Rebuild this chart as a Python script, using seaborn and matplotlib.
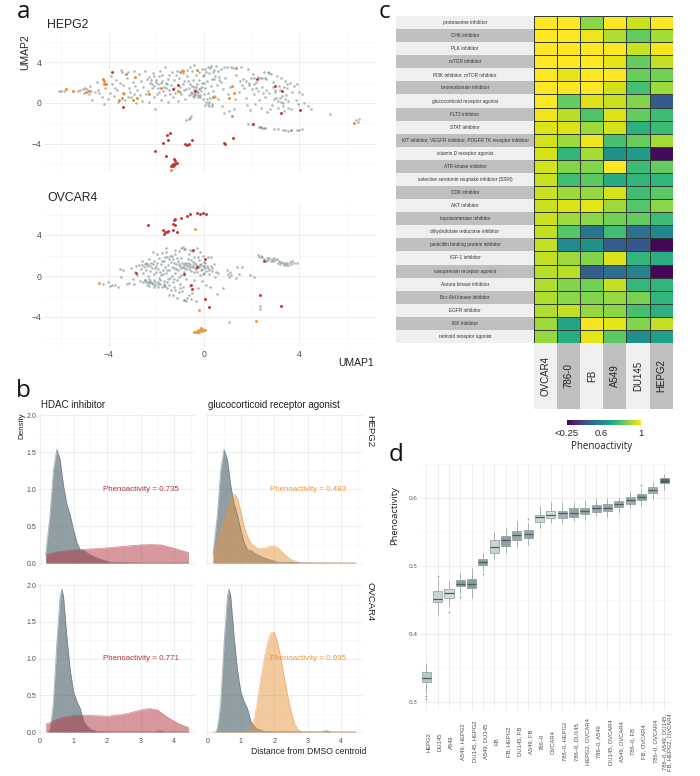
from matplotlib import pyplot as plt
from matplotlib.colors import to_rgba
import numpy as np
import pandas as pd
import seaborn as sns

W, H = 700, 776

# panel a, values
hepg2_grey = [(-6.1,1.15),(-6.0,1.2),(-5.9,1.2),(-5.3,1.2),(-5.2,1.3),(-5.1,1.35),(-5.05,1.0),(-5.0,1.5),(-4.9,1.4),(-4.85,.9),
    (-4.8,1.7),(-4.75,1.2),(-4.7,.3),(-4.5,2.1),(-4.45,1.3),(-4.3,.6),(-4.2,-.1),(-4.15,1.5),(-4.05,.4),(-3.95,1.0),
    (-3.9,2.6),(-3.85,1.9),(-3.8,.7),(-3.7,2.3),(-3.65,1.3),(-3.6,.1),(-3.55,2.0),(-3.5,3.2),(-3.45,3.0),(-3.4,1.8),
    (-3.35,.9),(-3.3,.3),(-3.25,2.5),(-3.2,3.0),(-3.15,1.5),(-3.1,1.1),(-3.05,.6),(-3.0,2.1),(-2.95,3.1),(-2.9,1.7),
    (-2.85,.0),(-2.8,1.3),(-2.75,2.8),(-2.7,.8),(-2.65,2.2),(-2.6,.2),(-2.55,1.6),(-2.5,3.1),(-2.45,.9),(-2.4,2.4),
    (-2.35,1.2),(-2.3,.1),(-2.25,2.0),(-2.2,1.5),(-2.15,2.9),(-2.1,.6),(-2.05,-.6),(-2.0,2.3),(-1.95,1.9),(-1.9,2.6),
    (-1.88,1.1),(-1.85,3.1),(-1.8,.3),(-1.78,2.7),(-1.75,2.2),(-1.7,1.6),(-1.65,3.5),(-1.62,.8),(-1.6,2.0),(-1.55,1.9),
    (-1.5,.1),(-1.47,2.7),(-1.45,1.3),(-1.4,1.8),(-1.35,3.0),(-1.3,.6),(-1.25,2.3),(-1.2,1.0),(-1.15,3.1),(-1.1,.2),
    (-1.05,2.5),(-1.0,1.6),(-.95,.9),(-.9,2.9),(-.88,1.9),(-.85,2.2),(-.8,.4),(-.75,1.4),(-.72,3.2),(-.7,2.6),
    (-.65,.8),(-.6,1.9),(-.58,3.5),(-.55,1.1),(-.5,3.1),(-.47,2.3),(-.45,.7),(-.42,1.6),(-.4,3.7),(-.38,.9),
    (-.35,1.3),(-.32,2.7),(-.3,1.9),(-.27,.6),(-.25,1.1),(-.22,2.3),(-.2,3.0),(-.17,1.5),(-.15,.8),(-.12,1.2),
    (-.1,3.3),(-.07,2.0),(-.05,.4),(-.02,.9),(.0,2.7),(.03,-.2),(.05,1.5),(.08,3.0),(.1,.1),(.13,2.2),
    (.15,3.5),(.17,1.0),(.2,-.3),(.23,2.9),(.25,.5),(.28,1.7),(.3,3.6),(.33,2.4),(.35,-.1),(.38,1.2),
    (.4,3.2),(.43,.7),(.45,2.6),(.5,3.6),(.55,1.8),(.6,.4),(.65,2.3),(.7,3.3),(.75,-.3),(.8,1.4),
    (.85,-1.0),(.9,2.5),(.95,3.5),(1.0,.9),(1.05,-.8),(1.1,1.6),(1.2,3.4),(1.25,-.6),(1.3,.4),(1.35,2.7),
    (1.45,1.1),(1.55,3.5),(1.65,2.4),(1.7,1.5),(1.75,.5),(1.8,-.2),(1.85,3.3),(1.9,2.0),(1.95,-.7),(2.0,1.4),
    (2.05,2.8),(2.1,.9),(2.15,-.1),(2.2,2.1),(2.25,1.2),(2.3,.3),(2.35,2.5),(2.4,-.5),(2.45,1.6),(2.5,3.0),
    (2.55,.6),(2.6,2.4),(2.65,-.9),(2.7,3.0),(2.75,1.0),(2.8,2.8),(2.85,-.2),(2.9,2.1),(2.95,.4),(3.0,1.3),
    (3.05,2.6),(3.1,-.5),(3.15,1.7),(3.2,.5),(3.25,2.5),(3.3,.0),(3.35,-.8),(3.4,2.2),(3.45,.8),(3.5,1.5),
    (3.55,.2),(3.6,2.0),(3.65,-.6),(3.7,1.1),(3.8,1.7),(3.85,.3),(3.9,1.9),(3.95,-.1),(4.0,1.1),(4.1,.9),
    (4.2,.0),(4.35,-.3),(4.5,-.6),(5.3,-1.05),(6.4,-1.65),(6.5,-1.55),(6.45,-1.9),
    (-.75,-1.7),(-.65,-1.55),(-.6,-1.45),(-.55,-1.3),(1.85,-2.1),(2.0,-2.05),(2.3,-2.35),(2.35,-2.38),(2.4,-2.4),(2.45,-2.42),
    (2.5,-2.45),(2.55,-2.45),(2.95,-2.55),(3.1,-2.58),(3.3,-2.65),(3.4,-2.65),(3.55,-2.7),(3.65,-2.65),(3.65,-2.6),(3.9,-2.65),(4.0,-2.6),(4.1,-2.55),
    (-2.3,2.55),(-2.22,2.3),(-2.18,1.9),(-2.12,2.65),(-2.08,1.7),(-2.02,2.1),(-1.98,.9),(-1.92,1.5),(-1.82,2.0),(-1.72,1.2),
    (-1.58,1.45),(-1.52,2.4),(-1.42,.9),(-1.28,1.5),(-1.18,2.75),(-1.02,1.1),(-.92,3.25),(-.82,1.25),(-.68,2.15),(-.62,1.5),
    (-.56,.85),(-.52,1.7),(-.48,1.0),(-.44,.55),(-.4,1.25),(-.36,.75),(-.33,1.55),(-.29,1.05),(-.24,.75),(-.2,1.35),
    (-.16,.55),(-.1,1.6),(-.06,2.6),(.02,1.95),(.06,3.35),(.12,.35),(.18,-.1),(.22,.1),(.27,3.45),(.32,-.25),
    (.36,3.0),(.42,2.35),(.48,.55),(.58,3.1),(.62,2.55),(.72,2.1),(.82,3.55),(1.12,3.55),(1.5,2.2),(1.6,1.8),
    (1.78,2.15),(1.88,1.75),(1.98,2.45),(2.08,1.85),(2.12,2.5),(2.18,1.5),(2.28,2.55),(2.42,2.45),(2.48,1.0),(2.58,2.5),
    (2.62,1.3),(2.72,2.9),(2.78,-.55),(2.92,1.6),(2.98,1.1),(3.02,.45),(3.12,.2),(3.18,1.25),(3.22,.05),(3.28,.7),
    (3.32,-.3),(3.38,1.6),(3.42,.4),(3.48,1.9),(3.52,-.5),(-4.4,1.0),(-4.6,1.1),(-3.75,1.5),(-3.2,.6),(-2.95,.9)]
hepg2_red = [(-3.88,3.07),(-3.40,-.36),(-1.09,1.76),(-1.29,1.34),(-.36,1.21),(2.24,2.35),(2.98,1.67),(3.29,1.21),(3.25,-.95),(4.03,-.65),
    (2.04,-2.06),(1.20,-3.40),(.83,-3.95),(.90,-4.05),(-.49,-3.63),(-.63,-3.99),(-.70,-4.08),(-.81,-4.02),(-1.44,-2.91),(-1.54,-3.14),
    (-1.50,-3.66),(-1.72,-3.89),(-2.06,-4.71),(-1.61,-5.16),(-1.27,-5.49),(-1.2,-5.7),(-1.15,-5.85),(-1.3,-5.95),(-1.35,-6.1),(-1.25,-6.05),
    (-1.4,-6.2),(-1.3,-6.2),(-1.2,-6.0)]
hepg2_orange = [(-5.78,1.34),(-5.52,1.14),(-4.94,1.05),(-4.85,1.21),(-4.24,2.35),(-4.2,2.16),(-4.2,1.83),(-4.1,1.83),(-3.26,2.88),(-2.91,2.55),
    (-3.4,.98),(-3.43,.52),(-3.57,.29),(-2.98,.33),(-2.8,.46),(-2.3,.92),(-1.82,1.44),(-1.08,1.21),(-1.02,3.04),(-.9,3.17),
    (-.28,3.27),(.39,.59),(1.05,.46),(1.19,1.7),(1.27,1.01),(1.19,-1.27),(1.33,3.43),(-1.4,-6.6),(6.3,-1.95)]

ovcar4_grey = [(-4.25,-.75),(-4.05,-.6),(-3.85,-.85),(-3.75,-.9),(-3.6,-1.1),(-3.95,-.95),(-3.5,-.1),(-3.55,.65),(-3.4,.6),(-3.25,-.75),
    (-3.15,-.65),(-3.05,.8),(-3.0,-.3),(-2.95,-.8),(-2.9,.4),(-2.85,.95),(-2.8,.1),(-2.75,1.1),(-2.7,-.5),(-2.65,.7),
    (-2.6,1.5),(-2.55,.3),(-2.5,-.35),(-2.48,1.2),(-2.45,-.6),(-2.42,.6),(-2.4,1.0),(-2.38,-.9),(-2.35,.0),(-2.3,1.7),
    (-2.28,.5),(-2.25,-.45),(-2.22,1.3),(-2.2,-.7),(-2.18,.8),(-2.15,2.3),(-2.12,.2),(-2.1,-.4),(-2.08,1.5),(-2.05,-.9),
    (-2.02,1.0),(-2.0,.4),(-1.98,2.1),(-1.95,-.55),(-1.92,.7),(-1.9,-.2),(-1.88,1.8),(-1.85,-.75),(-1.82,1.2),(-1.8,.1),
    (-1.78,-1.1),(-1.75,2.2),(-1.72,.6),(-1.7,-.5),(-1.68,1.5),(-1.65,.9),(-1.62,-1.0),(-1.6,.3),(-1.58,2.7),(-1.55,1.9),
    (-1.52,-.3),(-1.5,1.1),(-1.48,-.9),(-1.45,.55),(-1.42,2.0),(-1.4,-1.4),(-1.38,1.4),(-1.35,.0),(-1.32,-.6),(-1.3,1.7),
    (-1.28,.8),(-1.25,-1.1),(-1.22,2.1),(-1.2,.3),(-1.18,1.2),(-1.15,-.4),(-1.12,-2.1),(-1.1,1.5),(-1.08,.6),(-1.05,2.4),
    (-1.02,-.8),(-1.0,1.0),(-.98,.1),(-.95,1.8),(-.92,-1.5),(-.9,.9),(-.88,2.8),(-.85,.4),(-.82,-2.3),(-.8,1.3),
    (-.78,2.6),(-.75,-.3),(-.72,1.0),(-.7,-2.1),(-.68,1.7),(-.65,.7),(-.62,2.1),(-.6,-1.0),(-.58,1.2),(-.55,.5),
    (-.52,2.4),(-.5,-1.7),(-.48,.9),(-.45,1.4),(-.42,-.4),(-.4,1.9),(-.38,.8),(-.35,-2.4),(-.32,1.1),(-.3,2.7),
    (-.28,.4),(-.25,-1.2),(-.22,1.6),(-.2,.9),(-.18,2.3),(-.15,.1),(-.12,1.2),(-.1,-.5),(-.07,.7),(-.05,2.0),
    (-.02,1.4),(.0,.3),(.03,.8),(.05,1.3),(.08,-.9),(.1,.5),(.15,1.9),(.2,.2),(.25,-1.1),(.28,1.0),
    (.3,1.9),(.35,.5),(.4,1.2),(.45,-.1),(.5,.4),(.55,-1.8),(.6,.3),(.8,-1.2),(.95,.6),(1.0,.2),
    (1.05,-.1),(1.1,.4),(1.15,.05),(1.35,-.15),(1.4,.9),(1.45,.2),(1.6,.9),(1.95,.05),(2.1,-.1),(1.05,-4.5),
    (2.35,-2.95),(2.35,-3.25),(2.25,2.05),(2.3,1.9),(2.4,2.0),(2.45,1.85),(2.5,1.7),(2.6,1.45),(2.65,1.75),(2.7,1.6),
    (2.75,1.75),(2.8,1.5),(2.85,1.7),(2.9,1.45),(2.95,1.8),(3.0,1.6),(3.05,1.7),(3.1,1.3),(3.15,1.5),(3.2,1.15),
    (3.25,1.4),(3.3,1.25),(3.35,1.05),(3.4,1.3),(3.45,1.1),(3.5,1.25),(3.55,1.05),(3.6,1.35),(3.65,1.15),(3.7,1.5),(3.8,1.25),(3.9,1.25),
    (-2.6,1.1),(-2.55,-.55),(-2.52,.9),(-2.46,-.4),(-2.44,1.3),(-2.36,-.55),(-2.34,1.15),(-2.32,-.7),(-2.3,-.3),(-2.26,1.0),
    (-2.24,-.6),(-2.16,1.15),(-2.14,-.75),(-2.06,.75),(-2.04,-.6),(-1.96,1.25),(-1.94,-.8),(-1.86,.35),(-1.84,-.35),(-1.76,1.5),
    (-1.74,.2),(-1.66,-.8),(-1.64,1.9),(-1.56,-.6),(-1.54,.6),(-1.46,1.7),(-1.44,-.2),(-1.36,.9),(-1.34,2.0),(-1.26,-.3),
    (-1.24,1.3),(-1.16,.65),(-1.14,1.8),(-1.06,-.1),(-1.04,1.2),(-.96,.75),(-.94,1.25),(-.86,1.05),(-.84,.8),(-.76,1.15),
    (-.74,.65),(-.66,1.25),(-.64,1.0),(-.56,.85),(-.54,1.55),(-.46,1.05),(-.44,.35),(-.36,1.3),(-.34,.65),(-.26,1.0),
    (-.24,1.9),(-.16,1.1),(-.14,.55),(-.06,1.0),(-.04,.15),(.02,1.0),(.12,1.0),(.18,.8),(.22,.6),(.32,.8),
    (-.9,-1.1),(-1.05,-1.6),(-1.3,-1.9),(-1.55,-1.15),(-.75,-2.4),(-.85,-2.35),(-.65,-1.9),(-1.45,-1.9),(-.55,-2.2),(-1.7,-1.0),
    (-1.95,-1.1),(-2.3,-1.0),(-2.1,-1.05),(-1.2,-1.35),(-1.0,-1.2),(-1.6,2.3),(-1.2,2.5),(-.95,2.75),(-.85,2.65),(-.6,2.55)]
ovcar4_red = [(-2.34,4.94),(-1.74,4.52),(-1.67,4.13),(-1.62,4.26),(-1.54,4.33),(-1.51,4.39),(-1.32,4.52),(-1.12,4.29),(-1.32,5.07),(-1.23,4.94),
    (-1.27,5.5),(-1.2,5.56),(-.95,5.69),(-.73,5.82),(-.59,6.02),(-.28,6.11),(-.18,6.05),(-.03,6.18),(.1,6.05),(-.48,2.54),
    (.03,1.69),(-.31,.88),(-.83,.23),(-2.84,.26),(-.53,-.85),(-.49,-1.27),(.06,-2.24),(.2,-3.06),(2.35,-1.82),(3.25,-2.89),(2.51,1.46)]
ovcar4_orange = [(-4.41,-.72),(-.38,4.59),(-.22,-3.35),(2.17,-4.42),(-.35,-5.45),(-.3,-5.4),(-.25,-5.35),(-.2,-5.5),(-.15,-5.3),(-.1,-5.2),
    (-.05,-5.25),(0,-5.3),(.05,-5.3),(-.1,-5.4),(-.2,-5.3),(-.12,-5.1),(-.25,-5.5),(-.4,-5.5)]

# panel b density curves
hepg2_grey_x = [.17,.3,.4,.5,.6,.7,.8,.9,1.0,1.1,1.2,1.3,1.4,1.5,1.7,1.9,2.1,2.4,2.8,3.2,4.43]
hepg2_grey_y = [.12,.65,1.25,1.54,1.4,1.05,.8,.65,.45,.28,.18,.17,.14,.11,.07,.04,.01,.01,.003,0,0]
hepg2_hdac_x = [.17,.5,1.0,1.5,2.0,2.5,3.0,3.3,3.6,4.0,4.43]
hepg2_hdac_y = [.11,.15,.175,.19,.205,.225,.245,.25,.245,.2,.14]
hepg2_gluco_x = [.17,.3,.4,.5,.6,.7,.8,.9,1.0,1.1,1.2,1.3,1.4,1.5,1.7,1.9,2.0,2.1,2.3,2.5,2.7,2.9,3.5,4.43]
hepg2_gluco_y = [.15,.3,.45,.6,.75,.88,.93,.88,.7,.5,.36,.27,.23,.2,.2,.23,.23,.21,.12,.05,.015,.005,.003,0]
ovcar4_grey_x = [.25,.3,.35,.4,.5,.6,.65,.7,.8,.9,1.0,1.1,1.2,1.3,1.4,1.5,1.7,2.0,3.4,3.56,3.7,4.43]
ovcar4_grey_y = [0,.05,.2,.4,1.2,1.85,1.95,1.85,1.3,.85,.55,.42,.32,.15,.08,.04,.01,.005,.003,.02,.003,0]
ovcar4_hdac_x = [.17,.3,.5,.7,1.0,1.5,2.0,2.5,3.0,3.25,3.5,3.8,4.1,4.43]
ovcar4_hdac_y = [.11,.13,.17,.2,.225,.225,.215,.24,.3,.32,.3,.2,.12,.06]
ovcar4_gluco_x = [.17,.8,1.1,1.2,1.3,1.4,1.5,1.6,1.7,1.8,1.9,2.0,2.1,2.2,2.3,2.4,2.5,2.6,2.7,2.8,3.0,4.43]
ovcar4_gluco_y = [0,0,.01,.02,.06,.17,.42,.75,1.0,1.22,1.35,1.36,1.22,1.0,.75,.5,.28,.12,.04,.01,.003,0]
phenoactivity_b = [["0.735", "0.483"], ["0.771", "0.995"]]

# panel c
moa_names = ["proteasome inhibitor", "CHK inhibitor", "PLK inhibitor", "mTOR inhibitor", "PI3K inhibitor, mTOR inhibitor",
    "bromodomain inhibitor", "glucocorticoid receptor agonist", "FLT3 inhibitor", "STAT inhibitor",
    "KIT inhibitor, VEGFR inhibitor, PDGFR TK receptor inhibitor", "vitamin D receptor agonist", "ATR kinase inhibitor",
    "selective serotonin reuptake inhibitor (SSRI)", "CDK inhibitor", "AKT inhibitor", "topoisomerase inhibitor",
    "dihydrofolate reductase inhibitor", "penicillin binding protein inhibitor", "IGF-1 inhibitor",
    "vasopressin receptor agonist", "Aurora kinase inhibitor", "Bcr-Abl kinase inhibitor", "EGFR inhibitor",
    "IKK inhibitor", "retinoid receptor agonist"]
cell_lines = ["OVCAR4", "786-0", "FB", "A549", "DU145", "HEPG2"]
heat_values = [[1,1,.87,1,.94,1],[1,1,.98,.91,.82,.9],[1,1,1,1,.94,.99],[1,1,1,.97,.82,.93],[1,.97,1,1,.83,.84],
    [1,1,1,.95,.78,.89],[.995,.82,.96,.94,.86,.46],[.98,.92,.79,.96,.82,.76],[.96,.96,.89,.95,.73,.76],[.95,.89,.98,.78,.83,.9],
    [.955,.74,.9,.63,.66,.27],[.95,.86,.86,1,.76,.82],[.94,.77,.81,.71,.74,.74],[.94,.89,.88,.95,.77,.81],[.94,.96,.97,.89,.8,.87],
    [.94,.89,.87,.84,.82,.76],[.93,.8,.54,.77,.53,.6],[.93,.61,.63,.47,.45,.26],[.93,.89,.86,.96,.74,.72],[.92,.92,.47,.52,.58,.26],
    [.91,.86,.84,.93,.75,.74],[.91,.87,.86,.88,.85,.74],[.91,.93,.88,.87,.78,.73],[.89,.69,.99,.97,.86,.93],[.88,.72,.97,.81,.62,.67]]

# panel d, each row is low whisker, q1, median, q3, high whisker
combos = ["HEPG2", "DU145", "A549", "A549, HEPG2", "DU145, HEPG2", "A549, DU145", "FB", "FB, HEPG2", "DU145, FB", "A549, FB",
    "786–0", "OVCAR4", "786–0, HEPG2", "786–0, DU145", "HEPG2, OVCAR4", "786–0, A549", "DU145, OVCAR4", "A549, OVCAR4",
    "786–0, FB", "FB, OVCAR4", "786–0, OVCAR4", "786–0, A549, DU145,\nFB, HEPG2, OVCAR4"]
box_stats = [[.313,.330,.336,.344,.357],[.428,.448,.452,.463,.482],[.442,.453,.461,.467,.478],[.459,.471,.474,.480,.490],
    [.453,.4685,.474,.482,.498],[.493,.502,.507,.510,.520],[.510,.520,.528,.538,.551],[.519,.530,.538,.544,.556],
    [.528,.538,.546,.552,.566],[.531,.542,.548,.553,.563],[.557,.5655,.572,.576,.589],[.563,.571,.575,.582,.594],
    [.564,.571,.578,.582,.594],[.5665,.573,.579,.585,.594],[.568,.577,.581,.585,.5975],[.574,.580,.586,.590,.600],
    [.573,.581,.586,.591,.601],[.578,.587,.592,.5955,.602],[.585,.591,.597,.6015,.610],[.589,.5975,.6015,.6065,.614],
    [.599,.608,.612,.616,.624],[.612,.622,.6255,.6295,.635]]
box_colors = ["#b9c7c8","#ccd3d3","#d4d9d9","#8a9b9e","#8c9a9d","#8d9ea1","#ccd3d3","#939fa2","#9aa8ab","#96a4a7",
    "#ccd3d3","#d4d9d9","#a4b0b2","#98a5a8","#9aa7a9","#9aa7a9","#9aa7a9","#9aa7a9","#9aa7a9","#8a9a9d","#9fadaf","#5a6d72"]
flier_x = [0,0,1,2,3,5,9,19]
flier_y = [.309,.305,.486,.433,.455,.489,.569,.62]

sns.set_theme(style="white")
plt.rcParams["font.family"] = ["Liberation Sans", "DejaVu Sans"]
fig = plt.figure(figsize=(W / 100, H / 100), dpi=100)


def px_ax(left, top, right, bottom):
    return fig.add_axes([left / W, 1 - bottom / H, (right - left) / W, (bottom - top) / H])


def px_text(x, y, s, **kw):
    kw.setdefault("color", "#222222")
    kw.setdefault("va", "center")
    fig.text(x / W, 1 - y / H, s, **kw)


def gg_grid(ax, xmaj, xmin, ymaj, ymin):
    ax.set_xticks(xmaj)
    ax.set_xticks(xmin, minor=True)
    ax.set_yticks(ymaj)
    ax.set_yticks(ymin, minor=True)
    ax.grid(True, which="major", color="#ebebeb", lw=0.6)
    ax.grid(True, which="minor", color="#f3f3f3", lw=0.4)
    ax.set_axisbelow(True)
    ax.tick_params(which="both", length=0, pad=2, labelcolor="#4d4d4d")
    ax.set_xlabel("")
    ax.set_ylabel("")
    sns.despine(ax=ax, left=True, bottom=True)


# a
def umap_panel(ax, grey, red, orange, orange_col):
    for pts, col, size, alpha in [(grey, "#6f8488", 3.6, 0.55), (orange, orange_col, 4.5, 1), (red, "#c5352f", 4.5, 1)]:
        sns.scatterplot(x=[p[0] for p in pts], y=[p[1] for p in pts], color=col, s=size, alpha=alpha, linewidth=0, ax=ax)
    gg_grid(ax, [-4, 0, 4], [-6, -2, 2, 6], [-4, 0, 4], [-6, -2, 2, 6])
    ax.tick_params(labelsize=6.2)
    ax.set_xticklabels(["−4", "0", "4"])
    ax.set_yticklabels(["−4", "0", "4"])


ax = px_ax(44, 33, 376, 171)
umap_panel(ax, hepg2_grey, hepg2_red, hepg2_orange, "#f08a24")
ax.set_xlim((44 - 204) / 23.8, (376 - 204) / 23.8)
ax.set_ylim((103 - 171) / 10.2, (103 - 33) / 10.2)
ax.tick_params(labelbottom=False)

ax = px_ax(44, 205, 376, 347)
umap_panel(ax, ovcar4_grey, ovcar4_red, ovcar4_orange, "#ea9a45")
ax.set_xlim((44 - 204) / 23.8, (376 - 204) / 23.8)
ax.set_ylim((276 - 347) / 10.25, (276 - 205) / 10.25)

px_text(47, 25, "HEPG2", fontsize=8.8)
px_text(47, 198, "OVCAR4", fontsize=8.8)
px_text(25, 52, "UMAP2", fontsize=7.5, rotation=90, ha="center")
px_text(374, 363, "UMAP1", fontsize=7.5, ha="right")

# b
GREY_FILL, GREY_EDGE = "#5d7179", "#586b72"
RED, ORANGE = "#b2333d", "#e8963f"


def density(ax, x, y, col, edge, alpha):
    ax.fill_between(x, y, color=to_rgba(col, alpha), lw=0)
    sns.lineplot(x=x, y=y, color=edge, lw=0.6, alpha=0.5, ax=ax, errorbar=None)


panels = [
    (39, 196, 413, 566, hepg2_grey_x, hepg2_grey_y, hepg2_hdac_x, hepg2_hdac_y, RED, phenoactivity_b[0][0], 141, 0, 0),
    (206.3, 363, 413, 566, hepg2_grey_x, hepg2_grey_y, hepg2_gluco_x, hepg2_gluco_y, ORANGE, phenoactivity_b[0][1], 308, 1, 0),
    (39, 196, 583, 735, ovcar4_grey_x, ovcar4_grey_y, ovcar4_hdac_x, ovcar4_hdac_y, RED, phenoactivity_b[1][0], 141, 0, 1),
    (206.3, 363, 583, 735, ovcar4_grey_x, ovcar4_grey_y, ovcar4_gluco_x, ovcar4_gluco_y, ORANGE, phenoactivity_b[1][1], 308, 1, 1),
]
for left, right, top, bottom, gx, gy, sx, sy, col, label, label_x, c, r in panels:
    ax = px_ax(left, top, right, bottom)
    density(ax, gx, gy, GREY_FILL, GREY_EDGE, 0.68)
    density(ax, sx, sy, col, col, 0.5)
    gg_grid(ax, [0, 1, 2, 3, 4], np.arange(0.5, 4.6, 1), [0, .5, 1, 1.5, 2], np.arange(.25, 2, .5))
    ax.set_xlim(-0.03, 4.65)
    ax.set_ylim(-0.04, 2.03)
    ax.tick_params(labelsize=5, labelleft=(c == 0), labelbottom=(r == 1))
    ax.set_yticklabels(["0.0", "0.5", "1.0", "1.5", "2.0"])
    ax.text((label_x - left - 1) / 33.55, 1.0, "Phenoactivity = " + label, color=col, fontsize=5.7, ha="center", va="center")

px_text(41, 405, "HDAC inhibitor", fontsize=7)
px_text(208, 405, "glucocorticoid receptor agonist", fontsize=7)
px_text(22, 426, "Density", fontsize=5.8, rotation=90, ha="center")
px_text(370, 431, "HEPG2", fontsize=6.8, rotation=-90, ha="center")
px_text(370, 602, "OVCAR4", fontsize=6.8, rotation=-90, ha="center")
px_text(366, 752, "Distance from DMSO centroid", fontsize=6.2, ha="right")

# c
band_ax = px_ax(396, 16, 534, 343)
band_ax.set_xlim(0, 1)
band_ax.set_ylim(len(moa_names), 0)
band_ax.axis("off")
for i, name in enumerate(moa_names):
    band_ax.axhspan(i, i + 1, color="#bfbfbf" if i % 2 else "#efefef", lw=0)
    band_ax.text(0.5, i + 0.5, name, fontsize=3.4, color="#333333", ha="center", va="center")

col_ax = px_ax(534, 343, 672.7, 409)
col_ax.set_xlim(0, len(cell_lines))
col_ax.set_ylim(0, 1)
col_ax.axis("off")
for j, name in enumerate(cell_lines):
    col_ax.axvspan(j, j + 1, color="#bfbfbf" if j % 2 else "#efefef", lw=0)
    col_ax.text(j + 0.5, 0.5, name, fontsize=7, color="#222222", rotation=90, ha="center", va="center")

heat_df = pd.DataFrame(heat_values, index=moa_names, columns=cell_lines)
heat_ax = px_ax(534, 16, 672.7, 343)
cbar_ax = px_ax(567, 420, 641, 425)
sns.heatmap(heat_df, cmap="viridis", vmin=0.25, vmax=1, linewidths=0.6, linecolor="#2f3d33", ax=heat_ax, cbar_ax=cbar_ax,
            cbar_kws={"orientation": "horizontal", "ticks": [0.25, 0.6, 1]}, xticklabels=False, yticklabels=False)
heat_ax.set_xlabel("")
heat_ax.set_ylabel("")
cbar_ax.set_xticklabels(["<0.25", "0.6", "1"])
cbar_ax.tick_params(length=0, labelsize=6.8, pad=3, labelcolor="#222222")
for s in cbar_ax.spines.values():
    s.set_visible(False)
px_text(602, 447, "Phenoactivity", fontsize=7, ha="center", family="Open Sans")

# d
box_df = pd.DataFrame([(c, v) for c, row in zip(combos, box_stats) for v in row], columns=["combo", "value"])
ax = px_ax(420, 464, 672, 710)
sns.boxplot(data=box_df, x="combo", y="value", hue="combo", order=combos, hue_order=combos, palette=dict(zip(combos, box_colors)),
            legend=False, width=0.8, whis=(0, 100), fliersize=0, linewidth=0.5, linecolor="#8a999c", saturation=1,
            showcaps=False, medianprops={"color": "#4a5c60", "linewidth": 0.9}, ax=ax)
sns.scatterplot(x=flier_x, y=flier_y, color="#8a9a9d", s=1.5, linewidth=0, ax=ax)
gg_grid(ax, range(len(combos)), [], [.3, .4, .5, .6], [.35, .45, .55, .65])
ax.set_xlim(-0.56, 21.7)
ax.set_ylim(0.2886, 0.6504)
ax.tick_params(labelbottom=False, labelsize=4.5)
ax.set_yticklabels(["0.3", "0.4", "0.5", "0.6"], family="Open Sans")
for i, name in enumerate(combos):
    ax.text(i + 0.25, -0.129, name, transform=ax.get_xaxis_transform(), rotation=90, fontsize=4.2, color="#4d4d4d",
            ha="center", va="center", linespacing=1.0, multialignment="center")
px_text(395, 516, "Phenoactivity", fontsize=6.8, rotation=90, ha="center", family="Open Sans")

# panel letters
for x, y, s in [(17, 18, "a"), (16, 396.7, "b"), (379, 17.5, "c"), (389, 460.7, "d")]:
    px_text(x, y, s, fontsize=17.5, va="baseline", family="Open Sans", color="#111111")

fig.savefig("out.png", dpi=100)
